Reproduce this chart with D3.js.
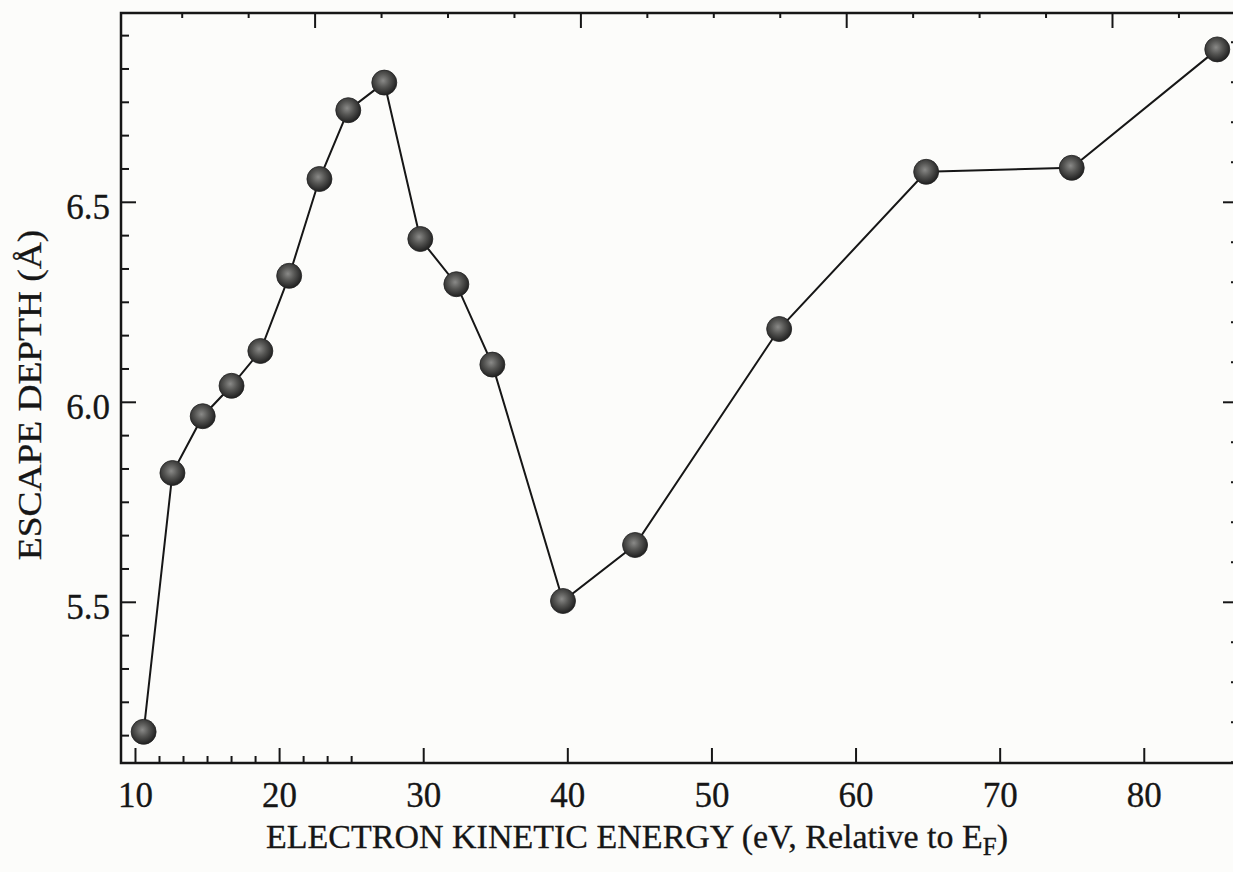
<!DOCTYPE html>
<html>
<head>
<meta charset="utf-8">
<script src="https://cdn.jsdelivr.net/npm/d3@7"></script>
<style>
  html, body { margin: 0; padding: 0; background: #fcfcfa; }
  svg { display: block; }
  text { font-family: "Liberation Serif", "Times New Roman", serif; fill: #161616; stroke: #161616; stroke-width: 0.3; }
  .frame { fill: none; stroke: #161616; stroke-width: 2.5; }
  .axis path { display: none; }
  .axis line { stroke: #161616; stroke-width: 2; }
</style>
</head>
<body>
<svg></svg>
<script>
'use strict';

// electron kinetic energy (eV, relative to E_F)
var energy = [10.6, 12.6, 14.7, 16.7, 18.7, 20.7, 22.8, 24.8, 27.3, 29.8,
              32.3, 34.8, 39.7, 44.7, 54.7, 64.9, 75.0, 85.1];
// escape depth (angstrom)
var depth = [5.175, 5.822, 5.964, 6.040, 6.127, 6.315, 6.557, 6.729, 6.798, 6.407,
             6.294, 6.093, 5.502, 5.642, 6.182, 6.575, 6.585, 6.881];

// tick values
var xMajor = [10, 20, 30, 40, 50, 60, 70, 80];
var yMajor = [5.5, 6.0, 6.5];
var topMajor = [1, 2, 3, 4];

var data = energy.map(function(e, i) { return {x: e, y: depth[i]}; });

var W = 1233, H = 872;
var margin = {top: 13, right: -2, bottom: 109, left: 121},
    width = W - margin.left - margin.right,
    height = H - margin.top - margin.bottom;

var svg = d3.select("svg")
  .attr("width", W)
  .attr("height", H);

var g = svg.append("g")
  .attr("transform", "translate(" + margin.left + "," + margin.top + ")");

var x = d3.scaleLinear().domain([9.03, 86.33]).range([0, width]);
var y = d3.scaleLinear().domain([5.097, 6.972]).range([height, 0]);
// unlabeled scale along the top edge
var xTop = d3.scaleLinear().domain([0.2716, 4.4628]).range([0, width]);

var inDom = function(s) {
  var d = s.domain();
  return function(v) { return v >= d[0] - 1e-9 && v <= d[1] + 1e-9; };
};
var notOnHalf = function(v) { return Math.abs(v * 2 - Math.round(v * 2)) > 0.01; };

var xMinor = d3.range(-1, 10).map(function(i) { return 10 + i * 10 / 6; })
  .filter(inDom(x)).filter(function(v) { return Math.abs(v / 10 - Math.round(v / 10)) > 0.001; });
var yMinorLeft = d3.range(-6, 20).map(function(i) { return 5.5 + i / 12; })
  .filter(inDom(y)).filter(notOnHalf);
var yMinorRight = d3.range(-5, 20).map(function(i) { return 5.5 + i / 10; })
  .filter(inDom(y)).filter(notOnHalf);
var topMinor = d3.range(0, 20).map(function(i) { return i / 4; })
  .filter(inDom(xTop)).filter(function(v) { return v % 1 !== 0; });

// bottom axis
g.append("g").attr("class", "axis")
  .attr("transform", "translate(0," + height + ")")
  .call(d3.axisBottom(x).tickValues(xMinor).tickSize(-7).tickFormat(""));
var xAx = g.append("g").attr("class", "axis")
  .attr("transform", "translate(0," + height + ")")
  .call(d3.axisBottom(x).tickValues(xMajor).tickSize(-15).tickPadding(19).tickFormat(d3.format("d")));
xAx.selectAll("text")
  .style("font-size", "35px");

// left axis
g.append("g").attr("class", "axis")
  .call(d3.axisLeft(y).tickValues(yMinorLeft).tickSize(-8).tickFormat(""));
var yAx = g.append("g").attr("class", "axis")
  .call(d3.axisLeft(y).tickValues(yMajor).tickSize(-15).tickPadding(11).tickFormat(d3.format(".1f")));
yAx.selectAll("text")
  .attr("dy", "0.47em")
  .style("font-size", "35px");

// right axis
g.append("g").attr("class", "axis")
  .attr("transform", "translate(" + width + ",0)")
  .call(d3.axisRight(y).tickValues(yMinorRight).tickSize(-4).tickFormat(""));
g.append("g").attr("class", "axis")
  .attr("transform", "translate(" + width + ",0)")
  .call(d3.axisRight(y).tickValues(yMajor).tickSize(-12).tickFormat(""));

// top axis
g.append("g").attr("class", "axis")
  .call(d3.axisTop(xTop).tickValues(topMinor).tickSize(-5).tickFormat(""));
g.append("g").attr("class", "axis")
  .call(d3.axisTop(xTop).tickValues(topMajor).tickSize(-15).tickFormat(""));

// frame
g.append("rect")
  .attr("class", "frame")
  .attr("width", width)
  .attr("height", height);

// marker shading
var grad = svg.append("defs").append("radialGradient")
  .attr("id", "ball")
  .attr("cx", "45%").attr("cy", "42%").attr("r", "60%");
grad.append("stop").attr("offset", "0%").attr("stop-color", "#8a8a88");
grad.append("stop").attr("offset", "45%").attr("stop-color", "#555553");
grad.append("stop").attr("offset", "100%").attr("stop-color", "#1c1c1c");

var line = d3.line()
  .x(function(d) { return x(d.x); })
  .y(function(d) { return y(d.y); });

g.append("path")
  .datum(data)
  .attr("d", line)
  .attr("fill", "none")
  .attr("stroke", "#161616")
  .attr("stroke-width", 2);

g.selectAll(".dot")
  .data(data)
  .enter()
  .append("circle")
  .attr("class", "dot")
  .attr("cx", function(d) { return x(d.x); })
  .attr("cy", function(d) { return y(d.y); })
  .attr("r", 12.5)
  .attr("fill", "url(#ball)")
  .attr("stroke", "#222")
  .attr("stroke-width", 0.8);

// axis titles
var xt = svg.append("text")
  .attr("transform", "translate(637,848)")
  .attr("text-anchor", "middle")
  .style("font-size", "34px");
xt.append("tspan").text("ELECTRON KINETIC ENERGY (eV, Relative to E");
xt.append("tspan").attr("dy", 7).style("font-size", "25px").text("F");
xt.append("tspan").attr("dy", -7).text(")");

svg.append("text")
  .attr("transform", "translate(41,395) rotate(-90) scale(1.1,1)")
  .attr("text-anchor", "middle")
  .style("font-size", "34px")
  .text("ESCAPE DEPTH (Å)");
</script>
</body>
</html>
